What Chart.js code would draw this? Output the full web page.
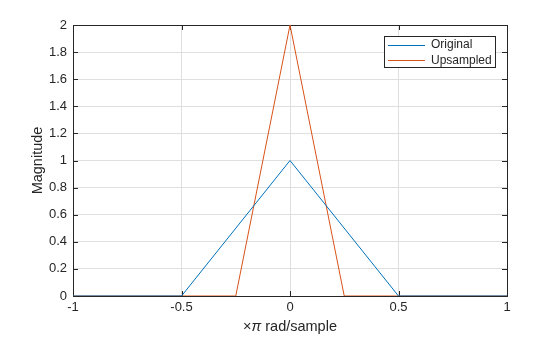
<!DOCTYPE html>
<html><head><meta charset="utf-8">
<script src="https://cdn.jsdelivr.net/npm/chart.js@4/dist/chart.umd.min.js"></script>
<style>html,body{margin:0;padding:0;background:#fff}#wrap{width:560px;height:337px;position:relative}</style>
</head><body><div id="wrap"><canvas id="c"></canvas></div>
<script>
const originalX = [-1, -0.5, 0, 0.5, 1];
const originalY = [0, 0, 1, 0, 0];
const upsampledX = [-1, -0.25, 0, 0.25, 1];
const upsampledY = [0, 0, 2, 0, 0];
const xTickValues = [-1, -0.5, 0, 0.5, 1];
const yTickValues = [0, 0.2, 0.4, 0.6, 0.8, 1, 1.2, 1.4, 1.6, 1.8, 2];
const seriesNames = ['Original', 'Upsampled'];
const seriesColors = ['#0072BD', '#D95319'];
const yTitle = 'Magnitude';

const FONT = "'Liberation Sans', Arial, Helvetica, sans-serif";
const TXT = '#262626';

function pts(xs, ys) { return xs.map((x, i) => ({x: x, y: ys[i]})); }

const matlabPlugin = {
  id: 'matlab',
  beforeDatasetsDraw(chart) {
    const {ctx, chartArea: a, scales} = chart;
    ctx.save();
    ctx.strokeStyle = TXT;
    ctx.lineWidth = 1;
    const L = 5;
    ctx.beginPath();
    xTickValues.forEach(v => {
      const px = Math.round(scales.x.getPixelForValue(v)) + 0.5;
      ctx.moveTo(px, a.bottom); ctx.lineTo(px, a.bottom - L);
      ctx.moveTo(px, a.top); ctx.lineTo(px, a.top + L);
    });
    yTickValues.forEach(v => {
      const py = Math.round(scales.y.getPixelForValue(v)) + 0.5;
      ctx.moveTo(a.left, py); ctx.lineTo(a.left + L, py);
      ctx.moveTo(a.right, py); ctx.lineTo(a.right - L, py);
    });
    ctx.stroke();
    ctx.strokeRect(Math.round(a.left) + 0.5, Math.round(a.top) + 0.5,
                   Math.round(a.right - a.left), Math.round(a.bottom - a.top));
    ctx.restore();
  },
  afterDraw(chart) {
    const {ctx, chartArea: a} = chart;
    ctx.save();
    ctx.fillStyle = TXT;
    ctx.textBaseline = 'middle';
    // y axis title
    ctx.save();
    ctx.translate(38, (a.top + a.bottom) / 2);
    ctx.rotate(-Math.PI / 2);
    ctx.textAlign = 'center';
    ctx.font = '14.5px ' + FONT;
    ctx.fillText(yTitle, 0, 0);
    ctx.restore();
    // x axis title with italic pi
    const parts = [['×', 'normal'], ['π', 'italic'], [' rad/sample', 'normal']];
    let total = 0;
    parts.forEach(p => { ctx.font = p[1] + ' 14.5px ' + FONT; total += ctx.measureText(p[0]).width; });
    let x = (a.left + a.right) / 2 - total / 2;
    const y = 327;
    parts.forEach(p => {
      ctx.font = p[1] + ' 14.5px ' + FONT;
      ctx.fillText(p[0], x, y);
      x += ctx.measureText(p[0]).width;
    });
    // legend
    const lx = 384.5, ly = 36.5, lw = 111, lh = 31;
    ctx.fillStyle = '#fff';
    ctx.fillRect(lx, ly, lw, lh);
    ctx.strokeStyle = TXT;
    ctx.lineWidth = 1;
    ctx.strokeRect(lx, ly, lw, lh);
    ctx.font = '12px ' + FONT;
    chart.data.datasets.forEach((ds, i) => {
      const yy = 44.5 + i * 15.5;
      ctx.strokeStyle = ds.borderColor;
      ctx.beginPath();
      ctx.moveTo(388, Math.round(yy) + 0.5);
      ctx.lineTo(425, Math.round(yy) + 0.5);
      ctx.stroke();
      ctx.fillStyle = TXT;
      ctx.fillText(ds.label, 431, yy + 0.5);
    });
    ctx.restore();
  }
};

new Chart(document.getElementById('c'), {
  type: 'line',
  data: {
    datasets: [
      {label: seriesNames[0], data: pts(originalX, originalY), borderColor: seriesColors[0], borderWidth: 1, pointRadius: 0, tension: 0, fill: false},
      {label: seriesNames[1], data: pts(upsampledX, upsampledY), borderColor: seriesColors[1], borderWidth: 1, pointRadius: 0, tension: 0, fill: false}
    ]
  },
  options: {
    responsive: true,
    maintainAspectRatio: false,
    animation: false,
    devicePixelRatio: 1,
    layout: {padding: {top: 25, right: 53, left: 0, bottom: 0}},
    plugins: {legend: {display: false}, tooltip: {enabled: false}},
    scales: {
      x: {
        type: 'linear', min: -1, max: 1,
        afterBuildTicks: s => { s.ticks = xTickValues.map(v => ({value: v})); },
        afterFit: s => { s.height = 41; },
        ticks: {color: TXT, font: {family: FONT, size: 13}, padding: 4, maxRotation: 0,
                callback: v => String(v)},
        grid: {color: '#dfdfdf', drawTicks: false, lineWidth: 1},
        border: {display: false}
      },
      y: {
        type: 'linear', min: 0, max: 2,
        afterBuildTicks: s => { s.ticks = yTickValues.map(v => ({value: v})); },
        afterFit: s => { s.width = 73; },
        ticks: {color: TXT, font: {family: FONT, size: 13}, padding: 6,
                callback: v => String(Math.round(v * 10) / 10)},
        grid: {color: '#dfdfdf', drawTicks: false, lineWidth: 1},
        border: {display: false}
      }
    }
  },
  plugins: [matlabPlugin]
});
</script></body></html>
